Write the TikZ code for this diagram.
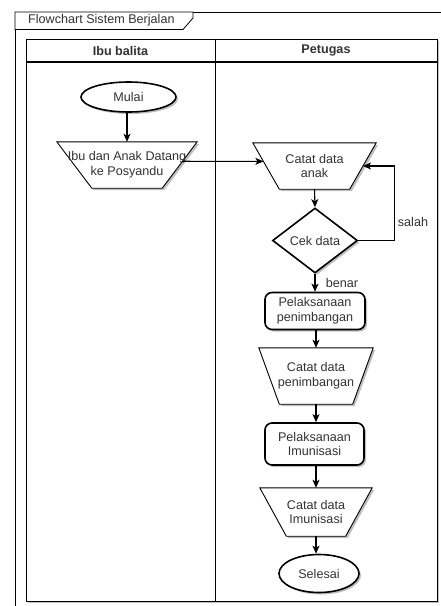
\documentclass[tikz,border=0pt]{standalone}
\usepackage{fontspec}
\setmainfont{Liberation Sans}
\usetikzlibrary{shapes.geometric,arrows.meta,calc,shadows,backgrounds}

\tikzset{
  lbl/.style={font=\fontsize{12.6}{14.6}\selectfont, text=black!80, align=center, inner sep=0pt},
  hdr/.style={lbl, font=\fontsize{12.6}{14.6}\selectfont\bfseries},
  shd/.style={drop shadow={shadow xshift=2pt, shadow yshift=-2pt, opacity=0.25, fill=black}},
  term/.style={lbl, ellipse, draw=black, line width=1.6pt, fill=white, shd},
  proc/.style={lbl, rectangle, rounded corners=7pt, draw=black, line width=1.6pt, fill=white, shd},
  decis/.style={lbl, diamond, draw=black, line width=1.6pt, fill=white, shd,
                minimum width=85, minimum height=65},
  trapline/.style={draw=black, line width=0.9pt, fill=white, shd},
  arr/.style={draw=black, line width=1.1pt, -{Stealth[length=8pt,width=7pt,inset=2pt]}},
}

% manual-operation trapezoid drawn around a named node: #1 node, #2 inset of the bottom edge
\newcommand\manualop[2]{%
  \begin{scope}[on background layer]
    \draw[trapline] (#1.north west) -- (#1.north east)
      -- ([xshift=-#2pt]#1.south east) -- ([xshift=#2pt]#1.south west) -- cycle;
  \end{scope}}

\begin{document}
\begin{tikzpicture}[x=1pt, y=-1pt]
  \useasboundingbox (0,0) rectangle (441,606);
  \clip (0,0) rectangle (441,606);

  % swimlane pool
  \begin{scope}[on background layer]
    \draw[line width=1pt, fill=white, shd] (26,39) rectangle (437,601);
  \end{scope}
  \draw[line width=1.2pt] (26,62) -- (437,62);
  \draw[line width=1pt] (215,39) -- (215,601);
  \node[hdr] (laneA) at (120.5,50.5) {Ibu balita};
  \node[hdr] (laneB) at (326,50.5) {Petugas};

  % outer frame with title tab
  \draw[line width=0.9pt] (15,12) rectangle (450,608);
  \draw[line width=0.8pt, fill=white] (15,12) -- (193,12) -- (193,18) -- (183,29.5) -- (15,29.5) -- cycle;
  \node[lbl, anchor=west] (title) at (28,20.5) {Flowchart Sistem Berjalan};

  % flow elements
  \node[term, minimum width=95, minimum height=30] (mulai) at (128.5,97) {Mulai};

  \node[lbl, minimum width=140, minimum height=46] (ibu) at (127,165) {Ibu dan Anak Datang\\ke Posyandu};
  \manualop{ibu}{35}

  \node[lbl, minimum width=123, minimum height=46] (catat) at (314.5,166) {Catat data\\anak};
  \manualop{catat}{26.5}

  \node[decis] (cek) at (315,240.5) {Cek data};

  \node[proc, minimum width=100, minimum height=37] (pen) at (315,311) {Pelaksanaan\\penimbangan};

  \node[lbl, minimum width=114, minimum height=56] (catpen) at (316,376) {Catat data\\penimbangan};
  \manualop{catpen}{20.5}

  \node[proc, minimum width=99, minimum height=42] (imun) at (314.5,444) {Pelaksanaan\\Imunisasi};

  \node[lbl, minimum width=112, minimum height=48] (catim) at (316,512) {Catat data\\Imunisasi};
  \manualop{catim}{26.5}

  \node[term, minimum width=80, minimum height=38] (sel) at (319,573.5) {Selesai};

  % connectors
  \draw[arr] (mulai.south -| ibu.north) -- (ibu.north);
  \draw[arr] ($(ibu.north east)!0.42!([xshift=-35pt]ibu.south east)$)
          -- ($(catat.north west)!0.4!([xshift=26.5pt]catat.south west)$);
  \draw[arr] (catat.south) -- (cek.north);
  \draw[arr] (cek.east) -- ++(36,0)
          |- ($(catat.north east)!0.5!([xshift=-26.5pt]catat.south east)$);
  \node[lbl] (salah) at (413,222) {salah};
  \draw[arr] (cek.south) -- (cek.south |- pen.north);
  \node[lbl] (benar) at (342,283) {benar};
  \draw[arr] (pen.south -| catpen.north) -- (catpen.north);
  \draw[arr] (catpen.south) -- (catpen.south |- imun.north);
  \draw[arr] (imun.south -| catim.north) -- (catim.north);
  \draw[arr] (catim.south) -- (catim.south |- sel.north);
\end{tikzpicture}
\end{document}
